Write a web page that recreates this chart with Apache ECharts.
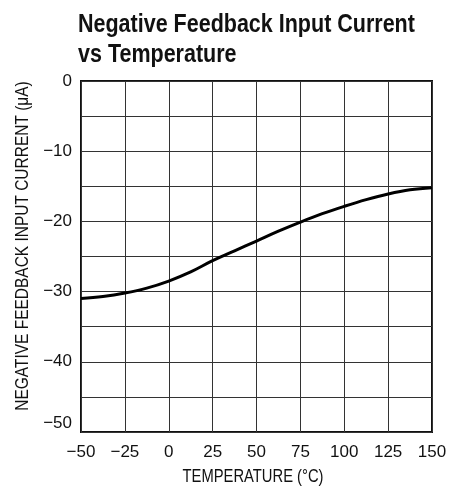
<!DOCTYPE html>
<html>
<head>
<meta charset="utf-8">
<script src="https://cdn.jsdelivr.net/npm/echarts@6/dist/echarts.min.js"></script>
<style>html,body{margin:0;padding:0;background:#fff}#c{width:462px;height:489px}</style>
</head>
<body>
<div id="c"></div>
<script>
const temperatures = [-50, -37.5, -25, -12.5, 0, 12.5, 25, 37.5, 50, 62.5, 75, 87.5, 100, 112.5, 125, 137.5, 150];
const currents = [-31.0, -30.7, -30.2, -29.5, -28.5, -27.2, -25.6, -24.2, -22.8, -21.4, -20.1, -18.9, -17.85, -16.9, -16.1, -15.5, -15.2];
const titleText = 'Negative Feedback Input Current\nvs Temperature';
const xName = 'TEMPERATURE (\u00B0C)';
const yName = 'NEGATIVE FEEDBACK INPUT CURRENT (\u03BCA)';

const FONT = '"Liberation Sans", Arial, sans-serif';
const fmt = v => String(v).replace('-', '\u2212');

const chart = echarts.init(document.getElementById('c'), null, {renderer: 'canvas'});
chart.setOption({
  animation: false,
  backgroundColor: '#fff',
  graphic: [{
    type: 'text',
    position: [78, 10],
    scaleX: 0.86,
    style: {
      x: 0, y: 0,
      text: titleText,
      font: 'bold 25px "Liberation Sans", Arial, sans-serif',
      lineHeight: 30,
      fill: '#111',
      textAlign: 'left',
      textVerticalAlign: 'top'
    }
  }, {
    type: 'text',
    position: [253, 477],
    scaleX: 0.82,
    style: {
      x: 0, y: 0,
      text: xName,
      font: '18px "Liberation Sans", Arial, sans-serif',
      fill: '#111',
      textAlign: 'center',
      textVerticalAlign: 'middle'
    }
  }, {
    type: 'text',
    position: [23, 246],
    rotation: Math.PI / 2,
    scaleX: 0.86,
    style: {
      x: 0, y: 0,
      text: yName,
      font: '18px "Liberation Sans", Arial, sans-serif',
      fill: '#111',
      textAlign: 'center',
      textVerticalAlign: 'middle'
    }
  }],
  grid: {left: 81, right: 30, top: 81, bottom: 57, containLabel: false,
         show: true, borderWidth: 2, borderColor: '#111', backgroundColor: 'transparent'},
  xAxis: {
    type: 'value', min: -50, max: 150, interval: 25,
    axisLine: {show: false},
    axisTick: {show: false},
    axisLabel: {fontFamily: FONT, fontSize: 17, color: '#111', margin: 12, formatter: fmt},
    splitLine: {show: true, lineStyle: {color: '#333', width: 1}}
  },
  yAxis: {
    type: 'value', min: -50, max: 0, interval: 5,
    axisLine: {show: false},
    axisTick: {show: false},
    axisLabel: {
      fontFamily: FONT, fontSize: 17, color: '#111', margin: 9,
      verticalAlignMinLabel: 'bottom',
      formatter: v => (v % 10 === 0 ? fmt(v) : '')
    },
    splitLine: {show: true, lineStyle: {color: '#333', width: 1}}
  },
  series: [{
    type: 'line',
    data: temperatures.map((t, i) => [t, currents[i]]),
    smooth: 0.4,
    showSymbol: false,
    lineStyle: {color: '#000', width: 3}
  }]
});
</script>
</body>
</html>
